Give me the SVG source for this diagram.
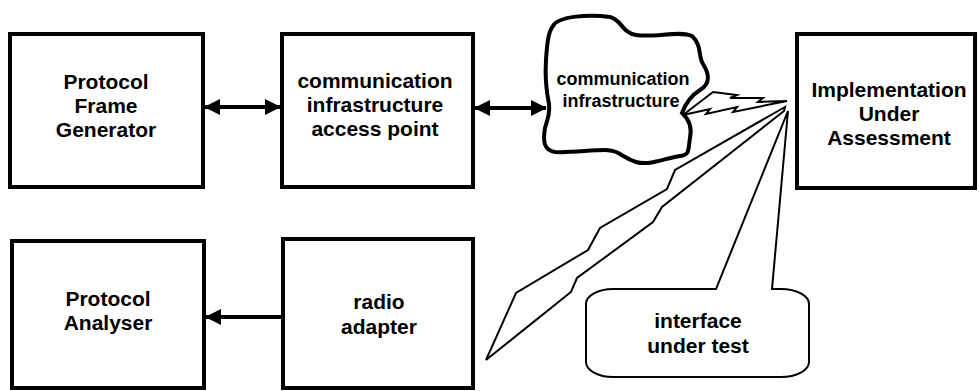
<svg xmlns="http://www.w3.org/2000/svg" width="979" height="391" viewBox="0 0 979 391">
  <defs>
    <style>
      .box { fill: #ffffff; stroke: #000000; stroke-width: 4; }
      .lbl { font-family: "Liberation Sans", Arial, sans-serif; font-weight: bold; font-size: 21px; fill: #000000; text-anchor: middle; }
      .small { font-size: 18px; }
      .link { stroke: #000000; stroke-width: 4; fill: none; }
      .bolt { fill: #ffffff; stroke: #000000; stroke-width: 2; stroke-linejoin: miter; }
      .cloud { fill: #ffffff; stroke: #000000; stroke-width: 4; }
    </style>
    <marker id="head" viewBox="0 0 16 16" refX="15" refY="8" markerWidth="16" markerHeight="16" markerUnits="userSpaceOnUse" orient="auto-start-reverse">
      <path d="M0,0 L16,8 L0,16 Z" fill="#000000"/>
    </marker>
  </defs>

  <rect width="979" height="391" fill="#ffffff"/>

  <!-- links between the blocks -->
  <g id="connectors">
    <line class="link" x1="205" y1="107" x2="280" y2="107" marker-start="url(#head)" marker-end="url(#head)"/>
    <line class="link" x1="475" y1="108" x2="546" y2="108" marker-start="url(#head)" marker-end="url(#head)"/>
    <line class="link" x1="283" y1="317" x2="206" y2="317" marker-end="url(#head)"/>
    <!-- radio link from the network cloud -->
    <polygon class="bolt" points="683,115 713,92 737,95 730,98 763,98 758,102 787,101 733,112 737,107 706,114 710,109 683,115"/>
    <!-- radio link down to the adapter -->
    <polygon class="bolt" points="785,107 675,170 667,189 600,228 588,250 516,293 486,360 571,292 577,278 653,222 662,207 784,111"/>
  </g>

  <g id="frame-generator">
    <rect class="box" x="10" y="34" width="193" height="153"/>
    <text class="lbl" x="106" y="89">Protocol</text>
    <text class="lbl" x="106" y="113">Frame</text>
    <text class="lbl" x="106" y="137">Generator</text>
  </g>

  <g id="access-point">
    <rect class="box" x="282" y="34" width="191" height="153"/>
    <text class="lbl" x="375" y="88">communication</text>
    <text class="lbl" x="375" y="112">infrastructure</text>
    <text class="lbl" x="375" y="136">access point</text>
  </g>

  <g id="infrastructure-cloud">
    <path class="cloud" d="M553,26 C558,16 590,14 610,17 C622,20 622,33 636,35 C655,38 680,30 692,36 C702,45 698,56 703,64 C710,75 710,84 700,90 C692,95 686,102 682,113 C690,120 692,128 690,138 C688,150 690,155 680,156 C665,158 650,166 636,162 C622,158 620,150 605,150 C590,150 570,153 555,152 C543,150 543,140 545,128 C548,118 550,112 549,104 C546,90 545,75 546,60 C547,45 548,32 553,26 Z"/>
    <text class="lbl small" x="623" y="85">communication</text>
    <text class="lbl small" x="621" y="107">infrastructure</text>
  </g>

  <g id="implementation">
    <rect class="box" x="797" y="34" width="178" height="154"/>
    <text class="lbl" x="889" y="97">Implementation</text>
    <text class="lbl" x="889" y="121">Under</text>
    <text class="lbl" x="889" y="145">Assessment</text>
  </g>

  <g id="protocol-analyser">
    <rect class="box" x="12" y="241" width="192" height="147"/>
    <text class="lbl" x="108" y="306">Protocol</text>
    <text class="lbl" x="108" y="330">Analyser</text>
  </g>

  <g id="radio-adapter">
    <rect class="box" x="283" y="239" width="190" height="149"/>
    <text class="lbl" x="379" y="309">radio</text>
    <text class="lbl" x="379" y="334">adapter</text>
  </g>

  <g id="interface-callout">
    <path class="bolt" d="M613,289 L716,289 L788,111 L772,289 L781,289 A28,15 0 0 1 809,304 L809,362 A28,15 0 0 1 781,377 L613,377 A27,15 0 0 1 586,362 L586,304 A27,15 0 0 1 613,289 Z"/>
    <text class="lbl" x="698" y="328">interface</text>
    <text class="lbl" x="698" y="353">under test</text>
  </g>
</svg>
